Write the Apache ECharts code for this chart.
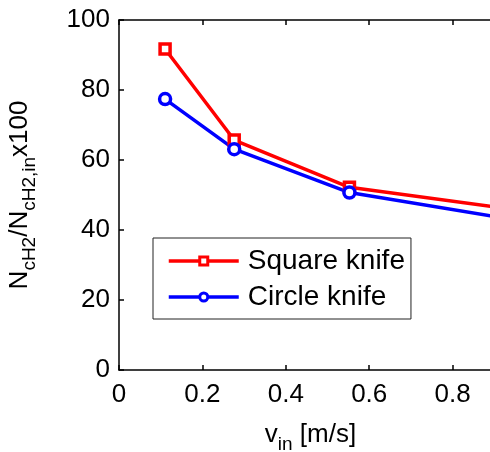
<!DOCTYPE html>
<html>
<head>
<meta charset="utf-8">
<script src="https://cdn.jsdelivr.net/npm/echarts@6/dist/echarts.min.js"></script>
<style>
  html, body { margin: 0; padding: 0; background: #fff; }
  #chart { width: 490px; height: 452px; }
</style>
</head>
<body>
<div id="chart"></div>
<script>
// inlet velocity [m/s]
var vIn = [0.1105, 0.2763, 0.5526, 1.105];
// N_cH2 / N_cH2,in x100
var squareKnife = [91.7, 65.7, 52.2, 43.3];
var circleKnife = [77.4, 63.1, 50.7, 39.8];
var seriesNames = ['Square knife', 'Circle knife'];

function pairs(xs, ys) {
  return xs.map(function (x, i) { return [x, ys[i]]; });
}

var font = 'Liberation Sans, Arial, Helvetica, sans-serif';
var chart = echarts.init(document.getElementById('chart'));

// 标题的上下标样式
var titleRich = {
  m: { fontSize: 26, color: '#000', fontFamily: font },
  s: { fontSize: 19, color: '#000', fontFamily: font, padding: [20, 0, 0, 0] }
};

var option = {
  animation: false,
  textStyle: { fontFamily: font },
  grid: {
    left: 119,
    top: 20,
    width: 417,
    height: 350,
    containLabel: false,
    outerBoundsMode: 'none'
  },
  legend: {
    orient: 'vertical',
    left: 153,
    top: 238,
    padding: [9, 6, 8, 14],
    itemWidth: 70,
    itemHeight: 10,
    itemGap: 8,
    borderColor: '#222',
    borderWidth: 1,
    backgroundColor: '#fff',
    lineStyle: { width: 3.5 },
    itemStyle: { borderWidth: 3 },
    textStyle: { fontSize: 28, color: '#000', fontFamily: font, lineHeight: 28, padding: [0, 0, 0, 4] },
    data: seriesNames
  },
  xAxis: [{
    type: 'value',
    min: 0,
    max: 1,
    interval: 0.2,
    name: '{m|v}{s|in}{m| [m/s]}',
    nameLocation: 'middle',
    nameGap: 45,
    nameTextStyle: { padding: [0, 34, 0, 0], rich: titleRich },
    axisLine: { lineStyle: { color: '#000', width: 1.5 } },
    axisTick: { inside: true, length: 5, lineStyle: { color: '#000', width: 1.5 } },
    axisLabel: { fontSize: 26, color: '#000', margin: 12, fontFamily: font },
    splitLine: { show: false }
  }, {
    type: 'value',
    position: 'top',
    min: 0,
    max: 1,
    interval: 0.2,
    axisLine: { show: true, lineStyle: { color: '#000', width: 1.5 } },
    axisTick: { inside: true, length: 5, lineStyle: { color: '#000', width: 1.5 } },
    axisLabel: { show: false },
    splitLine: { show: false }
  }],
  yAxis: {
    type: 'value',
    min: 0,
    max: 100,
    interval: 20,
    name: '{m|N}{s|cH2}{m|/N}{s|cH2,in}{m|x100}',
    nameLocation: 'middle',
    nameGap: 80,
    nameRotate: 90,
    nameTextStyle: { rich: titleRich },
    axisLine: { show: true, lineStyle: { color: '#000', width: 1.5 } },
    axisTick: { show: true, inside: true, length: 5, lineStyle: { color: '#000', width: 1.5 } },
    axisLabel: { fontSize: 26, color: '#000', margin: 9, fontFamily: font },
    splitLine: { show: false }
  },
  series: [{
    name: seriesNames[0],
    type: 'line',
    data: pairs(vIn, squareKnife),
    color: '#ff0000',
    symbol: 'rect',
    symbolSize: 10,
    lineStyle: { width: 3.5, color: '#ff0000' },
    itemStyle: { color: '#fff', borderWidth: 3.5, borderColor: '#ff0000' }
  }, {
    name: seriesNames[1],
    type: 'line',
    data: pairs(vIn, circleKnife),
    color: '#0000ff',
    symbol: 'circle',
    symbolSize: 11,
    lineStyle: { width: 3.5, color: '#0000ff' },
    itemStyle: { color: '#fff', borderWidth: 3.5, borderColor: '#0000ff' }
  }]
};

chart.setOption(option);
</script>
</body>
</html>
